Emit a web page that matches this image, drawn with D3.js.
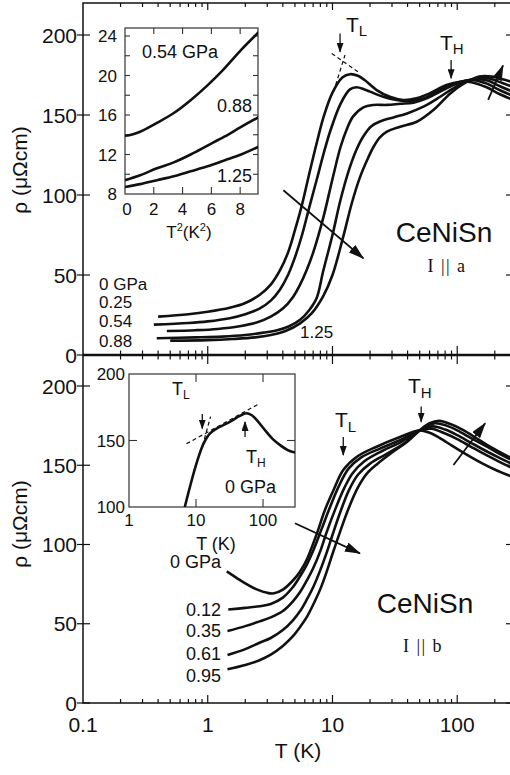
<!DOCTYPE html>
<html>
<head>
<meta charset="utf-8">
<script src="https://cdn.jsdelivr.net/npm/d3@7"></script>
<style>
body{margin:0;background:#fff;}
svg{display:block;font-family:"Liberation Sans",Arial,Helvetica,sans-serif;}
</style>
</head>
<body>
<script>
// ---- data: [T (K), rho (uOhm cm)] ----
// upper panel, I || a
var labelsA = ["0 GPa", "0.25", "0.54", "0.88"];
var rhoA_0 = [[0.4,24],[0.7,25.5],[1.0,27],[1.5,29.5],[2,32.5],[2.6,37.5],[3.2,44],[3.8,53],[4.4,64],[5,78],[5.7,94],[6.5,113],[7.5,133],[8.5,149],[10,164],[12,173.5],[13.8,175.5],[16,174.5],[18,172],[22.6,165.6],[28.8,161.4],[37,159.4],[47,160.4],[60,163.5],[82,168.7],[105,170.8],[130,170.5],[170,167.5],[220,163],[280,159.5]];
var rhoA_025 = [[0.37,19],[0.7,20],[1.0,21],[1.5,23],[2,25.5],[2.6,29],[3.2,34],[3.8,41],[4.4,50],[5,61],[5.7,75],[6.5,92],[7.5,110],[8.5,126],[9.6,140],[11.6,157],[13.8,166],[15.6,167.3],[18,166],[20,164.6],[25.5,161.4],[32.6,159.4],[41.8,158.7],[53.6,160.4],[68.7,164.6],[88,168.7],[108,171],[135,171.8],[170,169.8],[220,165.5],[280,162]];
var rhoA_054 = [[0.47,15],[0.8,15.5],[1.2,16.3],[1.8,18],[2.5,20.5],[3.2,24],[4,29],[4.8,36],[5.5,44],[6.2,53],[7,64],[8.45,86],[10,110],[11.6,130],[13,141],[14.6,149],[17.7,154.8],[21.3,156.3],[27.3,156.3],[34.9,157],[44.6,157.7],[57,160.4],[73,164.6],[93,168.7],[110,170.8],[140,172.5],[175,171.5],[220,168],[280,164.5]];
var rhoA_088 = [[0.39,10.5],[0.8,11],[1.3,11.5],[2,12.5],[2.8,14],[3.6,15.5],[4.5,18],[5.5,22],[6.5,28],[7.5,36],[8.4,52],[10,75],[11.6,97],[13.6,116],[15.5,128],[17.8,137],[20.5,143],[24.2,146],[30.8,148.5],[39.6,151],[53.6,155.2],[73,161.4],[93,166.7],[112,170],[145,173],[180,172.8],[230,170],[280,167.5]];
var rhoA_125 = [[0.5,9],[1,9.3],[1.6,10],[2.4,11],[3.2,12.5],[4.2,15],[5.5,19.8],[6.8,26],[8.45,37],[10,50],[12.2,74],[14.3,95],[16.6,111],[19,122],[21.3,130],[24,136],[27.3,139.6],[34.9,142.7],[47.4,145.8],[64.4,153.1],[88,163.5],[112,169.4],[150,174],[190,174],[240,172],[290,170]];

// lower panel, I || b
var labelsB = ["0 GPa", "0.12", "0.35", "0.61", "0.95"];
var rhoB_0 = [[1.42,83],[1.7,79],[2,75.5],[2.5,71.5],[3,69.5],[3.4,69.2],[4,71.5],[4.86,77.6],[5.5,83],[6.2,90.2],[7.5,107],[8.7,121.8],[10.2,134.4],[12.2,147],[15.7,155.4],[22.6,161.7],[32.8,167],[50,172],[60,170.5],[75,166.5],[90,162.5],[120,156.5],[160,151],[210,146.5],[280,142.5]];
var rhoB_012 = [[1.46,59],[2,60],[2.6,61],[3.2,62.5],[4,66.5],[4.8,73],[5.5,80],[6.2,87],[7,96],[8.2,110],[9.6,124],[11.2,136.5],[13.5,148],[17,155],[24,160.5],[34,165.5],[50,172],[62,173],[80,170],[100,166.5],[130,161.5],[170,156.5],[220,152],[280,148]];
var rhoB_035 = [[1.44,45.4],[2,48.5],[2.6,51.5],[3.2,54],[4,58],[4.8,64],[5.5,70],[6.2,77],[7,85],[8,96],[9,108],[10.5,122],[12.5,136],[14.5,145],[18,152.5],[25,159],[35,164.5],[50,172],[64,174.5],[80,172.5],[100,169],[130,164],[170,159],[220,154.5],[280,150.5]];
var rhoB_061 = [[1.44,30.3],[2,34],[2.6,38],[3.2,41],[4,46],[4.8,52],[5.5,58],[6.2,65],[7,73],[8,84],[9,95],[10,106],[11.5,120],[13.5,134],[16,144],[20,151],[27,157],[37,163.5],[50,172],[66,176.5],[82,175],[100,172],[130,167],[170,162],[220,157],[280,153]];
var rhoB_095 = [[1.44,21.3],[2,24],[2.6,27],[3.2,30.5],[4,36],[4.8,42],[5.5,48],[6.2,54],[7,62],[8,72],[9,83],[10,94],[11.5,108],[13.5,123],[16,136],[19,145],[23,151],[30,158],[40,165],[50,172],[60,176.5],[72,178],[88,176],[110,172.5],[140,167.5],[180,162],[230,157.5],[280,154]];

// inset of upper panel: [T^2 (K^2), rho]
var inA_054 = [[0,13.9],[0.3,13.95],[1.05,14.3],[2.22,15.2],[3.39,16.2],[4.56,17.5],[5.73,19.0],[6.9,20.7],[8.07,22.6],[9.3,24.4]];
var inA_088 = [[0,9.4],[1.05,9.9],[2.22,10.6],[3.39,11.2],[4.56,12.0],[5.73,12.9],[6.9,13.8],[8.07,14.8],[9.3,15.8]];
var inA_125 = [[0,8.7],[1.05,9.0],[2.22,9.4],[3.39,9.8],[4.56,10.3],[5.73,10.8],[6.9,11.4],[8.07,12.0],[9.3,12.8]];
// inset of lower panel, 0 GPa: [T (K), rho]
var inB_0 = [[6.8,100],[8.1,115],[10.2,133],[12.9,147.5],[16.2,155.4],[20.3,159],[32,164],[45,168.5],[56,170.5],[68,169],[85,164],[110,157],[140,151],[180,146.5],[240,142.5],[300,141]];

// tick values
var xMajor = [0.1, 1, 10, 100];
var yMajor = [0, 50, 100, 150, 200];
var inAxTicks = [0, 2, 4, 6, 8];
var inAyTicks = [8, 12, 16, 20, 24];
var inAyMinor = [10, 12, 14, 16, 18, 20, 22, 24];
var inBxTicks = [1, 10, 100];
var inByTicks = [100, 150, 200];

var width = 510, height = 775;
var ink = "#111";

var svg = d3.select("body").append("svg")
    .attr("width", width)
    .attr("height", height);

var defs = svg.append("defs");
//arrow heads
defs.append("marker").attr("id","headBig")
    .attr("markerUnits","userSpaceOnUse")
    .attr("markerWidth",16).attr("markerHeight",10)
    .attr("refX",15).attr("refY",5).attr("orient","auto")
    .append("path").attr("d","M0,0 L16,5 L0,10 Z").attr("fill",ink);
defs.append("marker").attr("id","headSmall")
    .attr("markerUnits","userSpaceOnUse")
    .attr("markerWidth",10).attr("markerHeight",7)
    .attr("refX",9).attr("refY",3.5).attr("orient","auto")
    .append("path").attr("d","M0,0 L10,3.5 L0,7 Z").attr("fill",ink);

//scales of the main panels (same T axis for both)
var x = d3.scaleLog().domain([0.1, 280]).range([83, 513]);
var yA = d3.scaleLinear().domain([0, 200]).range([355, 35]);
var yB = d3.scaleLinear().domain([0, 200]).range([703, 386]);
var panelA = {top: 3, bottom: 355};
var panelB = {top: 355, bottom: 703};

//inset scales
var xInA = d3.scaleLinear().domain([0, 9.24]).range([125, 258]);
var yInA = d3.scaleLinear().domain([8, 24]).range([194, 36]);
var xInB = d3.scaleLog().domain([1, 300]).range([129, 295]);
var yInB = d3.scaleLinear().domain([100, 200]).range([507, 374]);

function addClip(id, x0, y0, w, h){
    defs.append("clipPath").attr("id", id)
        .append("rect").attr("x", x0).attr("y", y0).attr("width", w).attr("height", h);
}
addClip("clipA", 83, panelA.top, 430, panelA.bottom - panelA.top);
addClip("clipB", 83, panelB.top, 430, panelB.bottom - panelB.top);
addClip("clipInA", 125, 28, 133, 166);
addClip("clipInB", 129, 374, 166, 133);

function isMajor(t){ return Math.abs(Math.log10(t) - Math.round(Math.log10(t))) < 1e-6; }

//x ticks along a horizontal border
function drawXTicks(y0, up, down, majLen, minLen){
    svg.append("g").selectAll("line")
        .data(x.ticks().filter(function(t){ return t > 0.1 && t < 280; }))
        .enter().append("line")
        .attr("x1", function(d){ return x(d); })
        .attr("x2", function(d){ return x(d); })
        .attr("y1", function(d){ return y0 - up * (isMajor(d) ? majLen : minLen); })
        .attr("y2", function(d){ return y0 + down * (isMajor(d) ? majLen : minLen); })
        .attr("stroke", ink).attr("stroke-width", 1.2);
}

//y ticks and labels of one panel
function drawYAxis(y){
    var g = svg.append("g");
    g.selectAll("line.l").data(yMajor).enter().append("line")
        .attr("x1", 77).attr("x2", 90)
        .attr("y1", function(d){ return y(d); }).attr("y2", function(d){ return y(d); })
        .attr("stroke", ink).attr("stroke-width", 1.2);
    g.selectAll("line.r").data(yMajor).enter().append("line")
        .attr("x1", 506).attr("x2", 513)
        .attr("y1", function(d){ return y(d); }).attr("y2", function(d){ return y(d); })
        .attr("stroke", ink).attr("stroke-width", 1.2);
    g.selectAll("text").data(yMajor).enter().append("text")
        .attr("x", 77).attr("y", function(d){ return y(d); })
        .attr("dy", "0.36em")
        .attr("text-anchor", "end")
        .style("font-size", "21px").attr("fill", ink)
        .text(function(d){ return d; });
}

// panel frames
svg.append("rect").attr("x", 83).attr("y", panelA.top).attr("width", 430)
    .attr("height", panelB.bottom - panelA.top)
    .attr("fill", "none").attr("stroke", ink).attr("stroke-width", 1.5);
svg.append("line").attr("x1", 83).attr("x2", 513).attr("y1", panelA.bottom).attr("y2", panelA.bottom)
    .attr("stroke", ink).attr("stroke-width", 2.6);

drawXTicks(panelA.top, 0, 1, 7, 4);
drawXTicks(panelA.bottom, 1, 1, 9, 4.5);
drawXTicks(panelB.bottom, 1, 0, 8, 4);
drawYAxis(yA);
drawYAxis(yB);

//x tick labels
svg.append("g").selectAll("text").data(xMajor).enter().append("text")
    .attr("x", function(d){ return x(d); }).attr("y", 732)
    .attr("text-anchor", "middle")
    .style("font-size", "21px").attr("fill", ink)
    .text(function(d){ return d; });

svg.append("text").attr("x", 298).attr("y", 758).attr("text-anchor", "middle")
    .style("font-size", "21px").attr("fill", ink).text("T (K)");

//y titles
[170, 524].forEach(function(cy){
    svg.append("text")
        .attr("transform", "translate(27," + cy + ") rotate(-90)")
        .attr("text-anchor", "middle")
        .style("font-size", "21px").attr("fill", ink)
        .text("\u03c1 (\u03bc\u03a9cm)");
});

// curves
var lineA = d3.line().x(function(d){ return x(d[0]); }).y(function(d){ return yA(d[1]); })
    .curve(d3.curveCatmullRom.alpha(0.5));
var lineB = d3.line().x(function(d){ return x(d[0]); }).y(function(d){ return yB(d[1]); })
    .curve(d3.curveCatmullRom.alpha(0.5));

svg.append("g").attr("clip-path", "url(#clipA)").selectAll("path")
    .data([rhoA_0, rhoA_025, rhoA_054, rhoA_088, rhoA_125])
    .enter().append("path")
    .attr("d", lineA)
    .attr("fill", "none").attr("stroke", ink).attr("stroke-width", 2.6);

svg.append("g").attr("clip-path", "url(#clipB)").selectAll("path")
    .data([rhoB_0, rhoB_012, rhoB_035, rhoB_061, rhoB_095])
    .enter().append("path")
    .attr("d", lineB)
    .attr("fill", "none").attr("stroke", ink).attr("stroke-width", 2.6);

//arrows
function arrow(p0, p1, big, w){
    svg.append("line")
        .attr("x1", p0[0]).attr("y1", p0[1]).attr("x2", p1[0]).attr("y2", p1[1])
        .attr("stroke", ink).attr("stroke-width", w || 1.8)
        .attr("marker-end", big ? "url(#headBig)" : "url(#headSmall)");
}
function ptA(t, r){ return [x(t), yA(r)]; }
function ptB(t, r){ return [x(t), yB(r)]; }

arrow(ptA(4.04, 103), ptA(17.7, 60.4), true);
arrow(ptA(177, 159.4), ptA(233, 181), true);
arrow(ptA(11.5, 201), ptA(11.5, 189.5), false, 1.3);
arrow(ptA(89.3, 184.4), ptA(89.3, 173), false, 1.3);

arrow(ptB(5.0, 113.4), ptB(16.6, 94.4), true);
arrow(ptB(93.3, 150.2), ptB(167.5, 176.5), true);
arrow(ptB(12.2, 167.8), ptB(12.2, 156.5), false, 1.3);
arrow(ptB(51.4, 187), ptB(51.4, 177.5), false, 1.3);

//dashed construction lines for T_L
function dashed(p0, p1){
    svg.append("line")
        .attr("x1", p0[0]).attr("y1", p0[1]).attr("x2", p1[0]).attr("y2", p1[1])
        .attr("stroke", ink).attr("stroke-width", 1.2).attr("stroke-dasharray", "4,3");
}
dashed(ptA(10.2, 164.6), ptA(12.6, 187.5));
dashed(ptA(9.86, 188.5), ptA(16.7, 176));

// text with subscript
function subText(xp, yp, main, sub, size, subSize, subDy){
    var t = svg.append("text").attr("x", xp).attr("y", yp)
        .style("font-size", size + "px").attr("fill", ink);
    t.append("tspan").text(main);
    t.append("tspan").attr("dy", subDy).style("font-size", subSize + "px").text(sub);
}
subText(346, 32, "T", "L", 21, 15, 4);
subText(440, 50, "T", "H", 21, 15, 4);
subText(335, 427, "T", "L", 21, 15, 5);
subText(408, 393, "T", "H", 21, 15, 5);

//pressure labels upper panel
var baseA = [290, 308, 327, 347];
svg.append("g").selectAll("text").data(labelsA).enter().append("text")
    .attr("x", 99).attr("y", function(d, i){ return baseA[i]; })
    .style("font-size", "17px").attr("fill", ink)
    .text(function(d){ return d; });
svg.append("text").attr("x", 300).attr("y", 338).style("font-size", "17px").attr("fill", ink).text("1.25");

//pressure labels lower panel
var baseB = [568, 616, 637, 660, 682];
svg.append("g").selectAll("text").data(labelsB).enter().append("text")
    .attr("x", 221).attr("y", function(d, i){ return baseB[i]; })
    .attr("text-anchor", "end")
    .style("font-size", "18px").attr("fill", ink)
    .text(function(d){ return d; });

//sample names
svg.append("text").attr("x", 444).attr("y", 242).attr("text-anchor", "middle")
    .style("font-size", "28px").attr("fill", ink).text("CeNiSn");
svg.append("text").attr("x", 447).attr("y", 272).attr("text-anchor", "middle")
    .style("font-family", "'Liberation Serif','Times New Roman',serif")
    .style("font-size", "18px").style("letter-spacing", "1.5px").attr("fill", ink).text("I || a");
svg.append("text").attr("x", 425).attr("y", 613).attr("text-anchor", "middle")
    .style("font-size", "28px").attr("fill", ink).text("CeNiSn");
svg.append("text").attr("x", 423).attr("y", 652).attr("text-anchor", "middle")
    .style("font-family", "'Liberation Serif','Times New Roman',serif")
    .style("font-size", "18px").style("letter-spacing", "1.5px").attr("fill", ink).text("I || b");

// ---- inset, upper panel ----
var gA = svg.append("g");
gA.append("rect").attr("x", 125).attr("y", 28).attr("width", 133).attr("height", 166)
    .attr("fill", "#fff").attr("stroke", "#333").attr("stroke-width", 1.2);
gA.selectAll("line.xb").data(inAxTicks.slice(1)).enter().append("line")
    .attr("x1", function(d){ return xInA(d); }).attr("x2", function(d){ return xInA(d); })
    .attr("y1", 194).attr("y2", 187).attr("stroke", "#333").attr("stroke-width", 1.1);
gA.selectAll("line.xt").data(inAxTicks.slice(1)).enter().append("line")
    .attr("x1", function(d){ return xInA(d); }).attr("x2", function(d){ return xInA(d); })
    .attr("y1", 28).attr("y2", 34).attr("stroke", "#333").attr("stroke-width", 1.1);
gA.selectAll("line.yl").data(inAyMinor).enter().append("line")
    .attr("x1", 125).attr("x2", 130)
    .attr("y1", function(d){ return yInA(d); }).attr("y2", function(d){ return yInA(d); })
    .attr("stroke", "#333").attr("stroke-width", 1.1);
gA.selectAll("line.yr").data(inAyMinor).enter().append("line")
    .attr("x1", 253).attr("x2", 258)
    .attr("y1", function(d){ return yInA(d); }).attr("y2", function(d){ return yInA(d); })
    .attr("stroke", "#333").attr("stroke-width", 1.1);
gA.selectAll("text.x").data(inAxTicks).enter().append("text")
    .attr("x", function(d){ return xInA(d) + (d === 0 ? 2 : 0); }).attr("y", 215)
    .attr("text-anchor", "middle").style("font-size", "17px").attr("fill", ink)
    .text(function(d){ return d; });
gA.selectAll("text.y").data(inAyTicks).enter().append("text")
    .attr("x", 117).attr("y", function(d){ return yInA(d); }).attr("dy", "0.36em")
    .attr("text-anchor", "end").style("font-size", "17px").attr("fill", ink)
    .text(function(d){ return d; });
var tA = gA.append("text").attr("x", 189).attr("y", 238).attr("text-anchor", "middle")
    .style("font-size", "17px").attr("fill", ink);
tA.append("tspan").text("T");
tA.append("tspan").attr("dy", -7).style("font-size", "11px").text("2");
tA.append("tspan").attr("dy", 7).text("(K");
tA.append("tspan").attr("dy", -7).style("font-size", "11px").text("2");
tA.append("tspan").attr("dy", 7).text(")");

var lineInA = d3.line().x(function(d){ return xInA(d[0]); }).y(function(d){ return yInA(d[1]); })
    .curve(d3.curveCatmullRom.alpha(0.5));
gA.append("g").attr("clip-path", "url(#clipInA)").selectAll("path")
    .data([inA_054, inA_088, inA_125]).enter().append("path")
    .attr("d", lineInA).attr("fill", "none").attr("stroke", ink).attr("stroke-width", 2.6);
gA.append("text").attr("x", 142).attr("y", 58).style("font-size", "18px").attr("fill", ink).text("0.54 GPa");
gA.append("text").attr("x", 252).attr("y", 112).attr("text-anchor", "end").style("font-size", "18px").attr("fill", ink).text("0.88");
gA.append("text").attr("x", 252).attr("y", 182).attr("text-anchor", "end").style("font-size", "18px").attr("fill", ink).text("1.25");

// ---- inset, lower panel ----
var gB = svg.append("g");
gB.append("rect").attr("x", 129).attr("y", 374).attr("width", 166).attr("height", 133)
    .attr("fill", "#fff").attr("stroke", "#333").attr("stroke-width", 1.2);
gB.selectAll("line.xb").data([10, 100]).enter().append("line")
    .attr("x1", function(d){ return xInB(d); }).attr("x2", function(d){ return xInB(d); })
    .attr("y1", 507).attr("y2", 499).attr("stroke", "#333").attr("stroke-width", 1.1);
gB.selectAll("line.xt").data([10, 100]).enter().append("line")
    .attr("x1", function(d){ return xInB(d); }).attr("x2", function(d){ return xInB(d); })
    .attr("y1", 374).attr("y2", 382).attr("stroke", "#333").attr("stroke-width", 1.1);
gB.selectAll("line.y").data([[129, 137], [287, 295]]).enter().append("line")
    .attr("x1", function(d){ return d[0]; }).attr("x2", function(d){ return d[1]; })
    .attr("y1", yInB(150)).attr("y2", yInB(150)).attr("stroke", "#333").attr("stroke-width", 1.1);
gB.selectAll("text.x").data(inBxTicks).enter().append("text")
    .attr("x", function(d){ return xInB(d); }).attr("y", 526)
    .attr("text-anchor", "middle").style("font-size", "17px").attr("fill", ink)
    .text(function(d){ return d; });
gB.selectAll("text.y").data(inByTicks).enter().append("text")
    .attr("x", 125).attr("y", function(d){ return yInB(d); }).attr("dy", "0.36em")
    .attr("text-anchor", "end").style("font-size", "17px").attr("fill", ink)
    .text(function(d){ return d; });
gB.append("text").attr("x", 216).attr("y", 550).attr("text-anchor", "middle")
    .style("font-size", "18px").attr("fill", ink).text("T (K)");

var lineInB = d3.line().x(function(d){ return xInB(d[0]); }).y(function(d){ return yInB(d[1]); })
    .curve(d3.curveCatmullRom.alpha(0.5));
gB.append("path").datum(inB_0).attr("clip-path", "url(#clipInB)")
    .attr("d", lineInB).attr("fill", "none").attr("stroke", ink).attr("stroke-width", 2.6);

function ptIB(t, r){ return [xInB(t), yInB(r)]; }
dashed(ptIB(7.2, 147.5), ptIB(85, 177.3));
dashed(ptIB(12.5, 146), ptIB(16.5, 168));
arrow(ptIB(12.4, 170), ptIB(12.4, 159), false, 1.3);
arrow(ptIB(53.9, 152.6), ptIB(53.9, 164), false, 1.3);
subText(172, 395, "T", "L", 18, 12, 4);
subText(246, 463, "T", "H", 18, 12, 4);
gB.append("text").attr("x", 225).attr("y", 493).style("font-size", "18px").attr("fill", ink).text("0 GPa");
</script>
</body>
</html>
